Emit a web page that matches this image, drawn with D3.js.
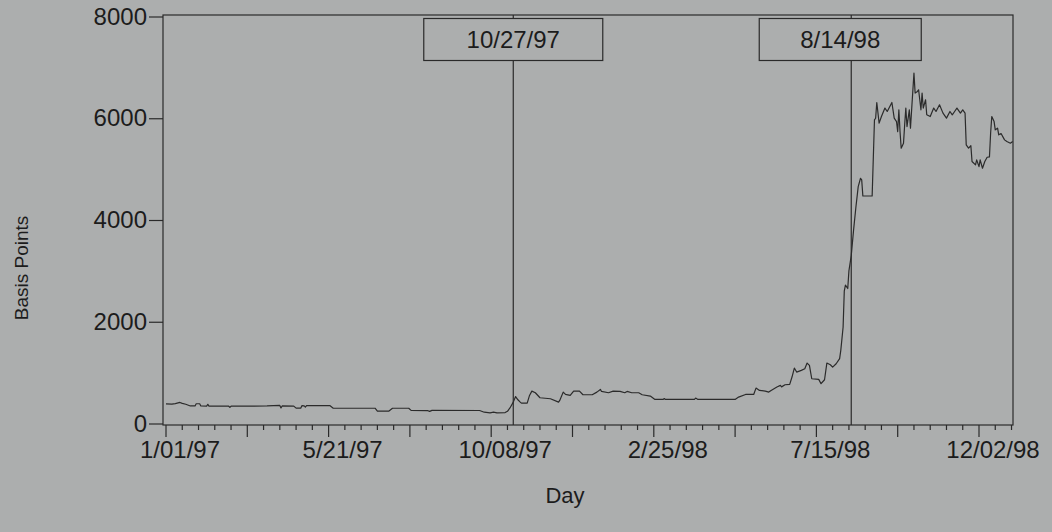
<!DOCTYPE html>
<html>
<head>
<meta charset="utf-8">
<script src="https://cdn.jsdelivr.net/npm/d3@7"></script>
<style>
  html, body { margin: 0; padding: 0; background: #acaeae; }
  svg { display: block; }
  text { font-family: "Liberation Sans", Arial, Helvetica, sans-serif; fill: #1c1c1c; }
</style>
</head>
<body>
<svg id="chart" width="1052" height="532"></svg>
<script>
// Daily spread series, in basis points
const dates = [
  "1997-01-01","1997-01-06","1997-01-09","1997-01-13","1997-01-15","1997-01-18","1997-01-22","1997-01-26",
  "1997-01-27","1997-01-30","1997-01-31","1997-02-05","1997-02-06","1997-02-07","1997-02-24","1997-02-25",
  "1997-02-26","1997-03-29","1997-04-09","1997-04-10","1997-04-11","1997-04-21","1997-04-23","1997-04-27",
  "1997-04-28","1997-04-30","1997-05-01","1997-05-02","1997-05-22","1997-05-25","1997-06-30","1997-07-02",
  "1997-07-12","1997-07-15","1997-07-29","1997-07-31","1997-08-14","1997-08-16","1997-08-18","1997-09-28",
  "1997-10-02","1997-10-07","1997-10-10","1997-10-13","1997-10-20","1997-10-22","1997-10-24","1997-10-25",
  "1997-10-27","1997-10-29","1997-10-31","1997-11-02","1997-11-03","1997-11-08","1997-11-10","1997-11-12",
  "1997-11-15","1997-11-19","1997-11-28","1997-12-05","1997-12-06","1997-12-09","1997-12-11","1997-12-15",
  "1997-12-18","1997-12-23","1997-12-26","1998-01-03","1998-01-07","1998-01-10","1998-01-11","1998-01-17",
  "1998-01-21","1998-01-27","1998-01-31","1998-02-02","1998-02-06","1998-02-12","1998-02-15","1998-02-22",
  "1998-02-26","1998-03-05","1998-03-06","1998-03-07","1998-04-01","1998-04-02","1998-04-04","1998-05-06",
  "1998-05-09","1998-05-15","1998-05-22","1998-05-24","1998-05-27","1998-06-01","1998-06-04","1998-06-06",
  "1998-06-11","1998-06-14","1998-06-15","1998-06-18","1998-06-22","1998-06-24","1998-06-26","1998-06-28",
  "1998-07-02","1998-07-05","1998-07-07","1998-07-09","1998-07-11","1998-07-17","1998-07-19","1998-07-22",
  "1998-07-24","1998-07-27","1998-07-29","1998-08-01","1998-08-04","1998-08-05","1998-08-07","1998-08-08",
  "1998-08-09","1998-08-11","1998-08-12","1998-08-14","1998-08-16","1998-08-18","1998-08-20","1998-08-22",
  "1998-08-23","1998-08-24","1998-09-01","1998-09-03","1998-09-04","1998-09-05","1998-09-07","1998-09-09",
  "1998-09-12","1998-09-14","1998-09-18","1998-09-20","1998-09-22","1998-09-23","1998-09-24","1998-09-25",
  "1998-09-26","1998-09-28","1998-09-29","1998-09-30","1998-10-01","1998-10-03","1998-10-04","1998-10-05",
  "1998-10-07","1998-10-08","1998-10-10","1998-10-11","1998-10-13","1998-10-14","1998-10-15","1998-10-17",
  "1998-10-18","1998-10-21","1998-10-24","1998-10-26","1998-10-29","1998-11-01","1998-11-04","1998-11-07",
  "1998-11-09","1998-11-11","1998-11-13","1998-11-16","1998-11-18","1998-11-20","1998-11-21","1998-11-23",
  "1998-11-25","1998-11-26","1998-11-29","1998-11-30","1998-12-02","1998-12-03","1998-12-05","1998-12-07",
  "1998-12-09","1998-12-11","1998-12-12","1998-12-13","1998-12-15","1998-12-16","1998-12-18","1998-12-19",
  "1998-12-21","1998-12-24","1998-12-26","1998-12-29","1998-12-31"
];
const values = [
  385,380,392,414,395,378,345,345,
  388,388,345,342,378,342,340,318,
  340,345,355,305,345,342,302,302,
  350,345,322,352,352,300,300,245,
  245,300,300,258,255,238,258,256,
  222,210,225,210,215,240,300,340,
  420,530,466,420,400,400,552,637,
  604,506,486,420,453,617,571,552,
  637,637,565,565,617,670,630,604,
  637,630,604,630,604,604,565,539,
  473,473,490,473,475,500,473,473,
  519,571,571,696,650,637,617,650,
  716,749,720,762,768,913,1090,1011,
  1044,1077,1188,1142,880,867,782,860,
  1188,1155,1109,1175,1274,1438,1897,2600,
  2719,2653,3000,3300,3800,4250,4655,4820,
  4790,4472,4472,5969,6000,6310,5904,6034,
  6200,6133,6310,6002,5935,5738,6166,5738,
  5411,5510,5871,6200,5837,6166,5805,6166,
  6889,6495,6527,6560,6166,6495,6200,6363,
  6068,6034,6200,6133,6265,6101,6002,6133,
  6068,6133,6200,6101,6166,6101,5477,5411,
  5460,5149,5083,5182,5050,5182,5017,5149,
  5234,5240,5707,6034,5935,5772,5805,5674,
  5700,5575,5542,5510,5542
];

// Axis labels and event markers
const xTickLabels = ["1/01/97", "5/21/97", "10/08/97", "2/25/98", "7/15/98", "12/02/98"];
const yTickValues = [0, 2000, 4000, 6000, 8000];
const eventDates = ["10/27/97", "8/14/98"];
const eventLabels = ["10/27/97", "8/14/98"];
const xTitle = "Day";
const yTitle = "Basis Points";

const parseIso = d3.utcParse("%Y-%m-%d");
const parseShort = d3.utcParse("%m/%d/%y");

const series = dates.map((d, i) => ({ date: parseIso(d), value: values[i] }));
const labelDates = xTickLabels.map(parseShort);

// Layout
const frame = { left: 163, right: 1013, top: 15, bottom: 425 };
const tickStepDays = 14;      // minor tick spacing
const majorEvery = 5;         // every fifth tick is long
const labelShiftX = 14;       // tick labels sit right of their tick
const eventBoxShift = [0, -11];
const eventBoxWidth = [179, 162];
const fontSize = 24;

const svg = d3.select("#chart");

svg.append("rect")
  .attr("width", 1052).attr("height", 532)
  .attr("fill", "#acaeae");

const x = d3.scaleUtc()
  .domain([labelDates[0], labelDates[labelDates.length - 1]])
  .range([166, 979]);

const y = d3.scaleLinear()
  .domain([0, 8000])
  .range([423.5, 16.5]);

// Plot frame
svg.append("rect")
  .attr("x", frame.left).attr("y", frame.top)
  .attr("width", frame.right - frame.left)
  .attr("height", frame.bottom - frame.top)
  .attr("fill", "none")
  .attr("stroke", "#2a2a2a")
  .attr("stroke-width", 1.2);

// Y axis
const yAxis = d3.axisLeft(y)
  .tickValues(yTickValues)
  .tickFormat(d3.format("d"))
  .tickSize(14)
  .tickPadding(2);

const gy = svg.append("g")
  .attr("transform", `translate(${frame.left},0)`)
  .call(yAxis);
gy.select(".domain").remove();
gy.selectAll(".tick line").attr("stroke", "#2a2a2a").attr("stroke-width", 1.2);
gy.selectAll(".tick text")
  .attr("font-size", fontSize)
  .attr("fill", "#1c1c1c")
  .style("font-family", "'Liberation Sans', Arial, sans-serif");

// X axis: minor ticks every two weeks, long ticks every ten weeks
const tickDates = [];
const lastDate = x.invert(frame.right);
for (let d = labelDates[0], i = 0; d <= lastDate; d = d3.utcDay.offset(d, tickStepDays), i++) {
  tickDates.push({ date: d, major: i % majorEvery === 0 });
}

const gx = svg.append("g")
  .attr("transform", `translate(0,${frame.bottom})`);

gx.selectAll("line.tick")
  .data(tickDates)
  .join("line")
  .attr("class", "tick")
  .attr("x1", d => x(d.date)).attr("x2", d => x(d.date))
  .attr("y1", 0)
  .attr("y2", d => d.major ? 12 : 5)
  .attr("stroke", "#2a2a2a")
  .attr("stroke-width", 1.2);

gx.selectAll("text.lab")
  .data(labelDates)
  .join("text")
  .attr("class", "lab")
  .attr("x", d => x(d) + labelShiftX)
  .attr("y", 33)
  .attr("text-anchor", "middle")
  .attr("font-size", fontSize)
  .text((d, i) => xTickLabels[i]);

// Event markers
eventDates.forEach((s, i) => {
  const xe = x(parseShort(s));
  svg.append("line")
    .attr("x1", xe).attr("x2", xe)
    .attr("y1", frame.top).attr("y2", frame.bottom)
    .attr("stroke", "#2a2a2a")
    .attr("stroke-width", 1.2);
  const cx = xe + eventBoxShift[i];
  const w = eventBoxWidth[i];
  svg.append("rect")
    .attr("x", cx - w / 2).attr("y", 18.5)
    .attr("width", w).attr("height", 42)
    .attr("fill", "#acaeae")
    .attr("stroke", "#2a2a2a")
    .attr("stroke-width", 1.2);
  svg.append("text")
    .attr("x", cx).attr("y", 48)
    .attr("text-anchor", "middle")
    .attr("font-size", fontSize)
    .text(eventLabels[i]);
});

// Series line
const line = d3.line()
  .x(d => x(d.date))
  .y(d => y(d.value));

svg.append("path")
  .datum(series)
  .attr("d", line)
  .attr("fill", "none")
  .attr("stroke", "#2b2b2b")
  .attr("stroke-width", 1.2)
  .attr("stroke-linejoin", "round");

// Axis titles
svg.append("text")
  .attr("transform", "translate(28,268) rotate(-90)")
  .attr("text-anchor", "middle")
  .attr("font-size", 19)
  .text(yTitle);

svg.append("text")
  .attr("x", 565).attr("y", 503)
  .attr("text-anchor", "middle")
  .attr("font-size", 22)
  .text(xTitle);
</script>
</body>
</html>
